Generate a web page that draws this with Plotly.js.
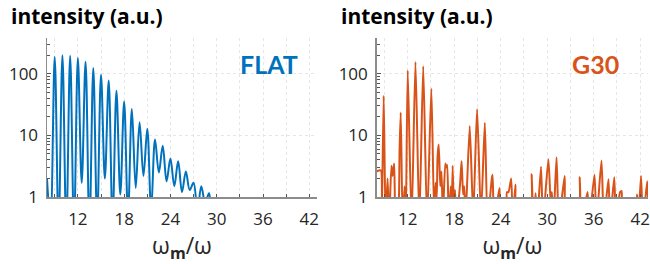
<!DOCTYPE html>
<html>
<head>
<meta charset="utf-8">
<script src="https://cdn.plot.ly/plotly-3.0.1.min.js"></script>
<style>html,body{margin:0;padding:0;background:#fff;}#chart{width:650px;height:264px;}</style>
</head>
<body>
<div id="chart"></div>
<script>
// FLAT spectrum: peaks and troughs
const flatX = [8.0, 8.45, 9, 9.5, 10, 10.5, 11, 11.5, 12, 12.5, 13, 13.5, 14, 14.5, 15, 15.5, 16, 16.5, 17, 17.5, 18, 18.5, 19, 19.5, 20, 20.5, 21, 21.5, 22, 22.5, 23, 23.5, 24, 24.5, 25, 25.5, 26, 26.5, 27, 27.5, 28, 28.5, 29, 29.5, 30.5, 43];
const flatY = [2.0, 0.4, 187, 0.3, 199, 0.3, 195, 0.3, 180, 1.7, 157, 0.3, 124, 0.4, 96, 2.0, 78, 0.4, 53, 1.1, 35.6, 0.5, 26.7, 1.4, 16.3, 2.2, 12.8, 0.6, 8.6, 2.5, 6.8, 1.8, 4.2, 1.5, 3.8, 1.2, 2.6, 1.3, 1.7, 0.6, 1.5, 0.8, 1.15, 0.4, 0.3, 0.3];

// G30 spectrum
const g30X = [8.0, 8.3, 8.55, 8.65, 8.9, 9.15, 9.4, 9.6, 9.9, 10.05, 10.25, 10.45, 10.8, 10.95, 11.1, 11.35, 11.6, 11.75, 12.0, 12.5, 13.0, 13.5, 14.0, 14.5, 15.05, 15.4, 15.6, 15.75, 15.85, 16.0, 16.2, 16.35, 16.55, 16.85, 17.0, 17.1, 17.3, 17.55, 17.65, 17.8, 18.0, 18.1, 18.3, 18.75, 18.95, 19.15, 19.3, 19.45, 20.0, 20.45, 20.95, 21.45, 21.95, 22.3, 22.85, 22.95, 23.15, 23.84, 24.0, 24.7, 24.8, 25.0, 25.35, 25.55, 25.9, 26.1, 27.8, 28.0, 28.2, 28.5, 28.7, 29.2, 29.45, 30.15, 30.45, 30.6, 30.8, 31.2, 31.5, 32.25, 32.5, 34.0, 34.2, 34.4, 35.2, 35.4, 36.1, 36.35, 37.0, 37.3, 37.9, 38.1, 38.65, 38.85, 39.4, 39.6, 39.75, 41.4, 41.6, 41.75, 42.1, 42.35, 42.9, 43.0];
const g30Y = [2.6, 2.7, 2.7, 0.4, 44, 0.4, 2.0, 0.4, 3.2, 2.2, 3.5, 0.4, 0.6, 6, 23.5, 0.4, 1.5, 0.4, 113, 0.4, 155, 0.4, 132, 0.4, 57, 0.6, 1.7, 1.0, 4.5, 7.1, 1.5, 2.6, 0.5, 3.5, 3.0, 3.3, 0.4, 1.5, 0.4, 3.2, 0.4, 1.3, 0.4, 1.6, 3.8, 1.1, 1.5, 0.4, 14.2, 0.5, 26.7, 0.5, 16, 0.4, 2.0, 2.3, 0.4, 1.4, 0.4, 0.4, 1.2, 1.2, 2.0, 0.4, 1.6, 0.4, 0.4, 2.35, 0.4, 1.15, 0.4, 3.1, 0.4, 4.1, 0.8, 1.2, 0.4, 4.4, 0.4, 2.2, 0.4, 0.4, 2.1, 0.4, 1.2, 0.4, 2.3, 0.4, 3.9, 0.4, 1.95, 0.4, 2.1, 0.4, 1.2, 1.25, 0.4, 0.4, 1.1, 0.4, 2.2, 0.4, 1.8, 1.0];

const xTickVals = [12, 18, 24, 30, 36, 42];
const xTickText = ['12', '18', '24', '30', '36', '42'];
const yTickVals = [1, 10, 100];
const yTickText = ['1', '10', '100'];
const yMinorVals = [2, 3, 4, 5, 6, 7, 8, 9, 20, 30, 40, 50, 60, 70, 80, 90, 200, 300];
const panelLabels = ['FLAT', 'G30'];
const yTitle = 'intensity (a.u.)';
const xTitle = 'ω<sub><b>m</b></sub>/ω';

const blue = '#0072BD';
const orange = '#D95319';
const tickFont = {family: 'Open Sans, sans-serif', size: 17, color: '#262626'};
const gridCol = '#e6e6e6';

function xAxis(domain, anchor) {
  return {
    domain: domain, anchor: anchor, range: [8, 43], type: 'linear',
    tickmode: 'array', tickvals: xTickVals, ticktext: xTickText,
    ticks: 'inside', ticklen: 3, tickcolor: '#555', tickwidth: 1,
    showgrid: true, gridcolor: gridCol, griddash: 'dot', gridwidth: 1,
    minor: {dtick: 3, tick0: 0, ticks: 'inside', ticklen: 3, tickcolor: '#555', showgrid: true, gridcolor: gridCol, griddash: 'dot'},
    showline: true, linecolor: '#8c8c8c', linewidth: 1.5, mirror: false,
    zeroline: false, tickfont: tickFont, ticklabelstandoff: 6,
    title: {text: xTitle, font: {family: 'Open Sans, sans-serif', size: 23, color: '#262626'}, standoff: 2}
  };
}
function yAxis(anchor) {
  return {
    anchor: anchor, type: 'log', range: [0, 2.58],
    tickmode: 'array', tickvals: yTickVals, ticktext: yTickText,
    ticks: 'inside', ticklen: 4, tickcolor: '#555',
    showgrid: true, gridcolor: gridCol, griddash: 'dot',
    minor: {tickmode: 'array', tickvals: yMinorVals, ticks: 'inside', ticklen: 3, tickcolor: '#555', showgrid: false},
    showline: true, linecolor: '#8c8c8c', linewidth: 1.5,
    zeroline: false, tickfont: tickFont, ticklabelstandoff: 4
  };
}

const traces = [
  {x: flatX, y: flatY, type: 'scatter', mode: 'lines', line: {color: blue, width: 2, shape: 'spline', smoothing: 1}, xaxis: 'x', yaxis: 'y', hoverinfo: 'skip'},
  {x: g30X, y: g30Y, type: 'scatter', mode: 'lines', line: {color: orange, width: 2, shape: 'spline', smoothing: 0.6}, xaxis: 'x2', yaxis: 'y2', hoverinfo: 'skip'}
];

const L = 47, R = 2, T = 38, B = 67, W = 650, H = 264;
const pw = W - L - R, ph = H - T - B;
const px = v => (v - L) / pw;
const py = v => (H - B - v) / ph;

const layout = {
  width: W, height: H,
  margin: {l: L, r: R, t: T, b: B},
  paper_bgcolor: '#fff', plot_bgcolor: '#fff',
  showlegend: false,
  font: {family: 'Open Sans, sans-serif', color: '#262626'},
  xaxis: xAxis([0, px(317)], 'y'),
  yaxis: yAxis('x'),
  xaxis2: xAxis([px(376.7), 1], 'y2'),
  yaxis2: yAxis('x2'),
  annotations: [
    {text: yTitle, xref: 'paper', yref: 'paper', x: px(9), y: py(16), xanchor: 'left', yanchor: 'middle', showarrow: false, font: {family: 'Open Sans, sans-serif', size: 21, color: '#000', weight: 'bold'}},
    {text: yTitle, xref: 'paper', yref: 'paper', x: px(339), y: py(16), xanchor: 'left', yanchor: 'middle', showarrow: false, font: {family: 'Open Sans, sans-serif', size: 21, color: '#000', weight: 'bold'}},
    {text: panelLabels[0], xref: 'paper', yref: 'paper', x: px(268.5), y: py(64), xanchor: 'center', yanchor: 'middle', showarrow: false, font: {family: 'Lato, sans-serif', size: 25, color: blue, weight: 'bold'}},
    {text: panelLabels[1], xref: 'paper', yref: 'paper', x: px(595), y: py(64), xanchor: 'center', yanchor: 'middle', showarrow: false, font: {family: 'Lato, sans-serif', size: 25, color: orange, weight: 'bold'}}
  ]
};

Plotly.newPlot('chart', traces, layout, {staticPlot: true, displayModeBar: false});
</script>
</body>
</html>
